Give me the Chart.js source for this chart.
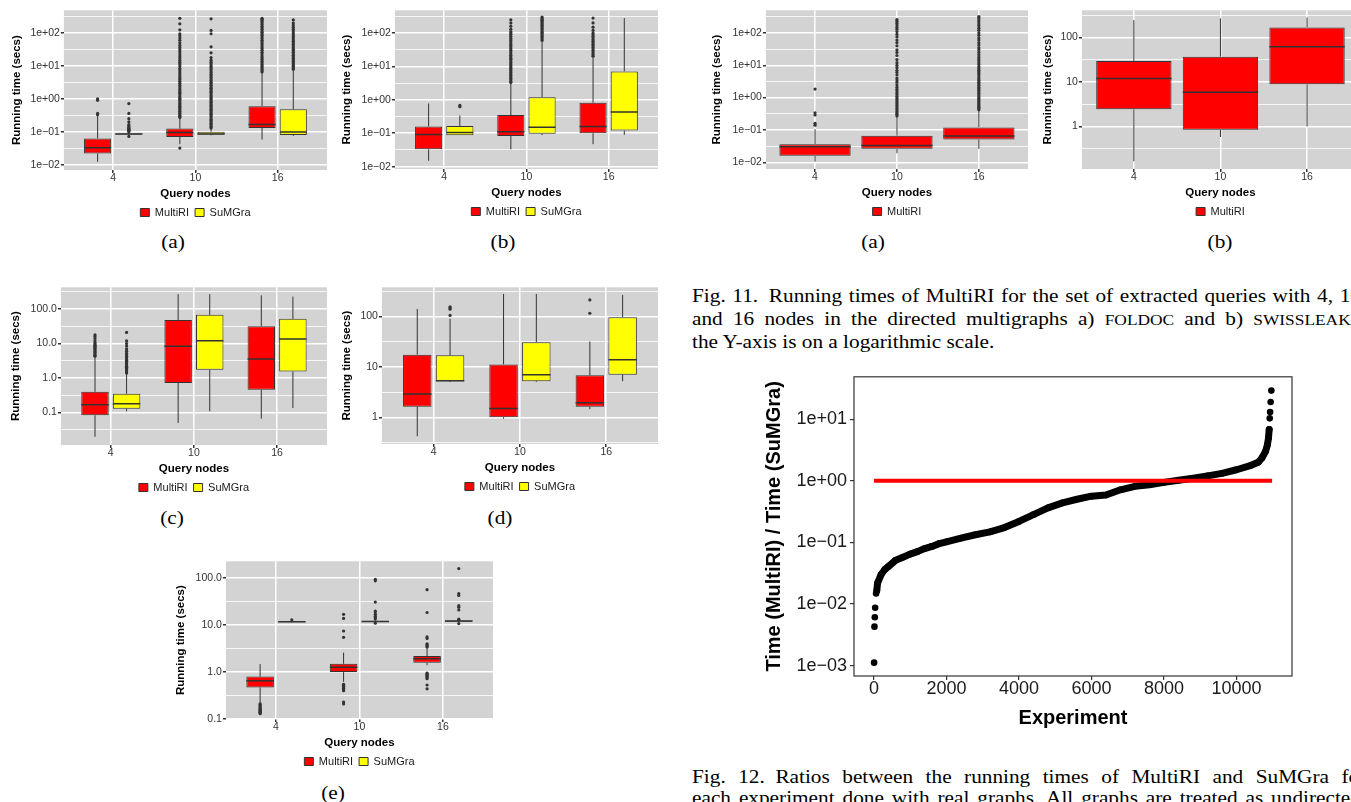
<!DOCTYPE html>
<html>
<head>
<meta charset="utf-8">
<script src="https://cdn.jsdelivr.net/npm/chart.js@4.4.1/dist/chart.umd.min.js"></script>
<style>
  html, body { margin: 0; padding: 0; background: #fff; }
  body { width: 1351px; height: 802px; overflow: hidden; position: relative;
         font-family: "Liberation Serif", "Times New Roman", serif; color: #000; }
  .cv { position: absolute; }
  .sub { position: absolute; width: 60px; font-size: 19px; line-height: 21.3px; text-align: center;
         transform: scaleX(1.12); }
  .cap { position: absolute; left: 692px; font-size: 19px; line-height: 21.3px;
         transform-origin: 0 0; transform: scaleX(1.12); }
  .cap div { width: 602px; white-space: nowrap; text-align: justify; text-align-last: justify; }
  .cap div.last { text-align-last: left; }
  .sc { font-size: 15.5px; }
</style>
</head>
<body>

<div class="sub" style="left:143px;top:231px">(a)</div>
<div class="sub" style="left:473px;top:231px">(b)</div>
<div class="sub" style="left:142px;top:507px">(c)</div>
<div class="sub" style="left:470px;top:507px">(d)</div>
<div class="sub" style="left:303px;top:782px">(e)</div>
<div class="sub" style="left:843px;top:231px">(a)</div>
<div class="sub" style="left:1190px;top:231px">(b)</div>

<div class="cap" style="top:285px;line-height:22.5px">
  <div>Fig. 11.&ensp;Running times of MultiRI for the set of extracted queries with 4, 10,</div>
  <div>and 16 nodes in the directed multigraphs a) <span class="sc">FOLDOC</span> and b) <span class="sc">SWISSLEAKS</span>;</div>
  <div class="last">the Y-axis is on a logarithmic scale.</div>
</div>
<div class="cap" style="top:766px">
  <div>Fig. 12.&ensp;Ratios between the running times of MultiRI and SuMGra for</div>
  <div>each experiment done with real graphs. All graphs are treated as undirected.</div>
</div>

<script>
// ── data ─────────────────────────────────────────────────────────────────────
const QUERY_NODES = ['4', '10', '16'];

// box stats per query size: [lower whisker, Q1, median, Q3, upper whisker] (secs)
const A_MULTI  = [[0.0123, 0.022, 0.033, 0.063, 0.30], [0.042, 0.07, 0.095, 0.125, 0.25], [0.058, 0.13, 0.165, 0.6, 5.9]];
const A_SUMGRA = [[0.075, 0.082, 0.085, 0.088, 0.095], [0.078, 0.082, 0.086, 0.10, 0.12], [0.075, 0.08, 0.098, 0.48, 7.5]];
const A_MULTI_OUT = [
  [0.33, 0.36, 0.9, 1.0],
  [0.032, 0.27, 0.29, 0.32, 0.35, 0.38, 0.42, 0.46, 0.5, 0.55, 0.6, 0.66, 0.72, 0.8, 0.88, 0.96, 1.05, 1.15, 1.3, 1.45, 1.6, 1.8, 2.0, 2.3, 2.6, 3.0, 3.4, 3.9, 4.4, 5.0, 5.8, 6.6, 7.5, 8.5, 10, 11.5, 13, 15, 17.5, 20, 23, 27, 31, 36, 42, 50, 60, 70, 82, 95, 125, 190, 280],
  [6.5, 7.2, 8, 9, 10, 11, 12.5, 14, 16, 18, 20, 23, 26, 30, 34, 38, 43, 48, 54, 60, 68, 76, 85, 95, 105, 115, 130, 145, 160, 180, 200, 220, 240, 260, 280]
];
const A_SUMGRA_OUT = [
  [0.072, 0.1, 0.105, 0.11, 0.115, 0.12, 0.125, 0.13, 0.14, 0.15, 0.165, 0.2, 0.25, 0.36, 0.72],
  [0.13, 0.14, 0.15, 0.165, 0.18, 0.2, 0.22, 0.24, 0.27, 0.3, 0.33, 0.36, 0.4, 0.44, 0.48, 0.53, 0.58, 0.64, 0.7, 0.77, 0.85, 0.94, 1.03, 1.13, 1.25, 1.4, 1.55, 1.7, 1.9, 2.1, 2.3, 2.6, 2.9, 3.2, 3.6, 4, 4.5, 5, 5.6, 6.3, 7, 8, 9, 10, 11.5, 13, 15, 18, 25, 38, 95, 120, 270],
  [8, 8.8, 9.6, 10.5, 11.5, 12.5, 14, 15.5, 17, 19, 21, 23, 26, 29, 32, 36, 40, 45, 50, 56, 62, 70, 78, 88, 100, 115, 130, 150, 175, 200, 250]
];

const B_MULTI  = [[0.015, 0.033, 0.091, 0.16, 0.78], [0.033, 0.083, 0.11, 0.35, 3.2], [0.047, 0.10, 0.16, 0.82, 18]];
const B_SUMGRA = [[0.087, 0.087, 0.105, 0.165, 0.34], [0.088, 0.096, 0.15, 1.2, 55], [0.09, 0.12, 0.43, 7.1, 280]];
const B_MULTI_OUT = [
  [],
  [3.3, 3.6, 4, 4.4, 4.9, 5.4, 6, 6.6, 7.3, 8, 8.8, 9.7, 10.7, 11.8, 13, 14.5, 16, 17.5, 19.5, 21.5, 24, 27, 30, 34, 38, 43, 48, 55, 62, 70, 80, 90, 100, 110, 130, 160, 200, 250],
  [20, 22, 24, 27, 30, 33, 37, 41, 46, 51, 57, 64, 72, 80, 90, 100, 120, 150, 200, 280]
];
const B_SUMGRA_OUT = [
  [0.62, 0.68],
  [60, 66, 72, 80, 88, 96, 105, 115, 125, 140, 155, 170, 185, 200, 220, 240, 260, 280, 300],
  []
];

const C_MULTI  = [[0.02, 0.084, 0.17, 0.40, 4.1], [0.05, 0.72, 8.4, 48, 270], [0.067, 0.46, 3.6, 32, 250]];
const C_SUMGRA = [[0.11, 0.13, 0.18, 0.35, 1.33], [0.11, 1.74, 12, 68, 270], [0.135, 1.55, 13.6, 52, 230]];
const C_MULTI_OUT  = [[4.3, 4.6, 5, 5.4, 5.8, 6.2, 6.7, 7.2, 7.8, 8.4, 9, 9.7, 10.5, 12, 14, 16, 18], [], []];
const C_SUMGRA_OUT = [[1.4, 1.5, 1.6, 1.75, 1.9, 2.05, 2.2, 2.4, 2.6, 2.8, 3.0, 3.3, 3.6, 3.9, 4.3, 4.7, 5.2, 6, 7, 8.5, 10, 12, 21], [], []];

const D_MULTI  = [[0.42, 1.62, 2.9, 17.5, 141], [0.93, 1.0, 1.5, 11.2, 280], [1.45, 1.62, 1.95, 6.8, 32]];
const D_SUMGRA = [[5.0, 5.2, 5.3, 17, 90], [5.0, 5.2, 7.0, 31, 280], [5.2, 7.0, 13.9, 97, 268]];
const D_MULTI_OUT  = [[], [], [116, 213]];
const D_SUMGRA_OUT = [[105, 140, 150, 155], [], []];

const E_MULTI  = [[0.22, 0.47, 0.65, 0.80, 1.48], [0.62, 1.0, 1.26, 1.5, 2.6], [1.4, 1.58, 1.92, 2.2, 3.2]];
const E_SUMGRA = [[11.3, 11.5, 11.8, 12.0, 12.2], [11.4, 11.6, 12.0, 12.3, 12.7], [11.5, 11.8, 12.2, 12.5, 12.9]];
const E_MULTI_OUT = [
  [0.13, 0.135, 0.14, 0.145, 0.15, 0.155, 0.16, 0.17, 0.18, 0.19, 0.2, 0.21],
  [0.21, 0.23, 0.4, 0.42, 0.45, 0.48, 0.5, 0.52, 0.55, 5.5, 7.5, 13.9, 17],
  [0.44, 0.53, 0.72, 0.76, 0.8, 0.84, 0.88, 0.92, 0.95, 3.4, 3.6, 3.8, 4.0, 5.2, 5.6, 18.6, 57]
];
const E_SUMGRA_OUT = [
  [13],
  [11, 13.5, 14.5, 15.5, 17, 19, 20, 31, 88, 95],
  [10.8, 13, 13.4, 21, 24, 26, 43, 47, 160]
];

// Fig. 11: MultiRI only (FOLDOC, SWISSLEAKS)
const F11A_MULTI = [[0.0105, 0.016, 0.030, 0.036, 0.105], [0.019, 0.026, 0.033, 0.066, 0.26], [0.026, 0.051, 0.065, 0.12, 0.41]];
const F11A_MULTI_OUT = [
  [0.14, 0.16, 0.29, 0.34, 1.83],
  [0.27, 0.3, 0.33, 0.37, 0.41, 0.46, 0.51, 0.57, 0.63, 0.7, 0.78, 0.87, 0.97, 1.1, 1.25, 1.4, 1.6, 1.8, 2.1, 2.5, 3, 3.5, 4, 5, 6, 7, 8.5, 10, 12, 15, 20, 25, 30, 40, 50, 60, 75, 90, 110, 130, 150, 175, 200, 230, 260],
  [0.42, 0.46, 0.5, 0.55, 0.6, 0.66, 0.73, 0.8, 0.88, 0.97, 1.07, 1.2, 1.35, 1.5, 1.7, 1.9, 2.1, 2.4, 2.7, 3, 3.4, 3.8, 4.3, 5, 5.6, 6.3, 7, 8, 9, 10.5, 12, 14, 16, 18, 21, 25, 30, 35, 42, 50, 60, 70, 85, 100, 120, 140, 165, 190, 220, 250, 290, 320]
];
const F11B_MULTI = [[0.165, 2.44, 11.9, 29.5, 245], [0.58, 0.84, 5.9, 37, 268], [1.0, 8.9, 62, 167, 280]];
const F11B_MULTI_OUT = [[], [], []];

// y axis ticks
const Y_SCI = [0.01, 0.1, 1, 10, 100];
const Y_SCI_LABELS = ['1e\u221202', '1e\u221201', '1e+00', '1e+01', '1e+02'];
const Y_DEC = [0.1, 1, 10, 100];
const Y_DEC_LABELS = ['0.1', '1.0', '10.0', '100.0'];
const Y_INT = [1, 10, 100];
const Y_INT_LABELS = ['1', '10', '100'];
const Y_MINOR = [0.00316, 0.0316, 0.316, 3.16, 31.6, 316];

// Fig. 12: sorted ratio time(MultiRI)/time(SuMGra) per experiment
const EXPERIMENT = [80, 100, 200, 300, 400, 600, 800, 1000, 1200, 1400, 1600, 1800, 2000, 2400, 2800, 3200, 3600, 4000, 4400, 4800, 5200, 5600, 6000, 6400, 6800, 7200, 7600, 8000, 8400, 8800, 9200, 9600, 10000, 10400, 10600, 10700, 10800, 10850, 10880, 10900];
const RATIO = [0.0166, 0.0219, 0.0302, 0.0363, 0.0407, 0.0513, 0.0575, 0.0646, 0.0708, 0.0794, 0.0861, 0.0955, 0.102, 0.117, 0.133, 0.148, 0.174, 0.219, 0.282, 0.363, 0.437, 0.501, 0.562, 0.589, 0.714, 0.813, 0.861, 0.94, 1.02, 1.10, 1.20, 1.32, 1.51, 1.78, 2.0, 2.34, 3.0, 3.8, 4.9, 6.8];
const TAIL_X = [5, 15, 25, 35, 60, 10915, 10925, 10940, 10960];
const TAIL_Y = [0.00112, 0.0043, 0.0061, 0.0087, 0.0148, 10.3, 13.0, 19.0, 29.0];
const PARITY_X = [0, 10980];
const PARITY_Y = [1, 1];
const EXP_TICKS = [0, 2000, 4000, 6000, 8000, 10000];
const RATIO_TICKS = [0.001, 0.01, 0.1, 1, 10];
const RATIO_LABELS = ['1e\u221203', '1e\u221202', '1e\u221201', '1e+00', '1e+01'];

// ── styling ──────────────────────────────────────────────────────────────────
Chart.defaults.font.family = '"Liberation Sans", Arial, Helvetica, sans-serif';
Chart.defaults.color = '#333';

const INK = '#333333';
const PANEL = '#d3d3d3';
const FILL = { MultiRI: '#ff0000', SuMGra: '#ffff00' };
const DODGE = 0.19, BOX_W2 = 0.33, BOX_W1 = 0.87;
const X_AXIS_H = 31;

const panelBg = {
  id: 'panelBg',
  beforeDraw(c, a, o) {
    if (!o.color) return;
    const { ctx, chartArea: { left, top, width, height } } = c;
    ctx.save(); ctx.fillStyle = o.color; ctx.fillRect(left, top, width, height); ctx.restore();
  }
};
const frame = {
  id: 'frame',
  afterDatasetsDraw(c, a, o) {
    if (!o.color) return;
    const { ctx, chartArea: { left, top, width, height } } = c;
    ctx.save(); ctx.strokeStyle = o.color; ctx.lineWidth = o.width;
    ctx.strokeRect(left, top, width, height); ctx.restore();
  }
};

function boxConfig(p, yW) {
  const two = p.names.length === 2;
  const datasets = [];
  p.names.forEach((name, k) => {
    const shift = two ? (k === 0 ? -DODGE : DODGE) : 0;
    const xs = QUERY_NODES.map((_, i) => i + 1 + shift);
    const half = (two ? BOX_W2 : BOX_W1) / 2;
    const stats = p.stats[k], outl = p.out[k];
    const med = [], whisk = [], pts = [];
    stats.forEach((s, i) => {
      med.push({ x: xs[i] - half, y: s[2] }, { x: xs[i] + half, y: s[2] }, { x: xs[i], y: null });
      whisk.push({ x: xs[i], y: s[0] }, { x: xs[i], y: s[1] }, { x: xs[i], y: null },
                 { x: xs[i], y: s[3] }, { x: xs[i], y: s[4] }, { x: xs[i], y: null });
      outl[i].forEach(v => pts.push({ x: xs[i], y: v }));
    });
    datasets.push(
      { type: 'bar', label: name, isBox: true, order: 1,
        data: stats.map((s, i) => ({ x: xs[i], y: [s[1], s[3]] })),
        backgroundColor: FILL[name], borderColor: INK, borderWidth: 1, borderSkipped: false,
        grouped: false, categoryPercentage: 1, barPercentage: two ? BOX_W2 / (2 * DODGE) : BOX_W1 },
      { type: 'line', order: 0, data: med, borderColor: INK, borderWidth: 1.5, pointRadius: 0 },
      { type: 'line', order: 2, data: whisk, borderColor: INK, borderWidth: 1, pointRadius: 0 },
      { type: 'scatter', order: 0, data: pts, pointRadius: 1.6, pointBackgroundColor: INK, pointBorderWidth: 0 }
    );
  });
  const yTicks = p.major.concat(Y_MINOR).sort((a, b) => a - b);
  return {
    type: 'bar',
    data: { datasets },
    plugins: [panelBg],
    options: {
      responsive: false, animation: false, devicePixelRatio: 1, events: [],
      layout: { padding: { top: 6, right: 6, left: 0, bottom: 0 } },
      plugins: {
        panelBg: { color: PANEL },
        tooltip: { enabled: false },
        legend: {
          position: 'bottom', fullSize: false,
          labels: { boxWidth: 9, boxHeight: 8, padding: 6, color: '#1a1a1a', font: { size: 11 },
                    filter: (item, data) => data.datasets[item.datasetIndex].isBox }
        }
      },
      scales: {
        x: {
          type: 'linear', min: 0.4, max: 3.6, offset: false,
          afterBuildTicks: ax => { ax.ticks = QUERY_NODES.map((_, i) => ({ value: i + 1 })); },
          afterFit: ax => { ax.height = X_AXIS_H; },
          ticks: { autoSkip: false, maxRotation: 0, padding: 0, color: '#333',
                   font: { size: 10.5, lineHeight: 1 }, callback: (v, i) => QUERY_NODES[i] },
          grid: { color: '#ffffff', lineWidth: 1.5, tickLength: 3, tickColor: INK, offset: false },
          border: { display: false },
          title: { display: true, text: 'Query nodes', color: '#000', padding: 0,
                   font: { size: 11.5, weight: 'bold' } }
        },
        y: {
          type: 'logarithmic', min: p.range[0], max: p.range[1],
          afterBuildTicks: ax => {
            ax.ticks = yTicks.filter(v => v >= p.range[0] && v <= p.range[1]).map(v => ({ value: v }));
          },
          afterFit: ax => { ax.width = yW; },
          ticks: { autoSkip: false, padding: 1, color: '#333', font: { size: 10.5 },
                   callback: v => { const i = p.major.indexOf(v); return i < 0 ? '' : p.labels[i]; } },
          grid: { color: '#ffffff', tickLength: 3,
                  lineWidth: c => p.major.includes(c.tick.value) ? 1.5 : 0.8,
                  tickColor: c => p.major.includes(c.tick.value) ? INK : 'rgba(0,0,0,0)' },
          border: { display: false },
          title: { display: true, text: 'Running time (secs)', color: '#000', padding: 0,
                   font: { size: 11.5, weight: 'bold' } }
        }
      }
    }
  };
}

function ratioConfig(yW) {
  return {
    type: 'scatter',
    data: {
      datasets: [
        { type: 'line', order: 0, data: PARITY_X.map((x, i) => ({ x, y: PARITY_Y[i] })),
          borderColor: '#ff0000', borderWidth: 4, pointRadius: 0 },
        { type: 'line', order: 1, data: EXPERIMENT.map((x, i) => ({ x, y: RATIO[i] })),
          borderColor: '#000', borderWidth: 7, borderCapStyle: 'round', borderJoinStyle: 'round',
          pointRadius: 3.3, pointBackgroundColor: '#000', pointBorderWidth: 0 },
        { type: 'scatter', order: 1, data: TAIL_X.map((x, i) => ({ x, y: TAIL_Y[i] })),
          pointRadius: 3.3, pointBackgroundColor: '#000', pointBorderWidth: 0 }
      ]
    },
    plugins: [frame],
    options: {
      responsive: false, animation: false, devicePixelRatio: 1, events: [],
      layout: { padding: { top: 7, right: 8, left: 0, bottom: 0 } },
      plugins: { legend: { display: false }, tooltip: { enabled: false }, frame: { color: INK, width: 1.2 } },
      scales: {
        x: {
          type: 'linear', min: -549, max: 11529,
          afterBuildTicks: ax => { ax.ticks = EXP_TICKS.map(v => ({ value: v })); },
          afterFit: ax => { ax.height = 54; },
          ticks: { autoSkip: false, maxRotation: 0, padding: 0, color: '#1a1a1a',
                   font: { size: 18, lineHeight: 1 }, callback: v => String(v) },
          grid: { drawOnChartArea: false, tickLength: 4, tickColor: INK, lineWidth: 1.2 },
          border: { display: false },
          title: { display: true, text: 'Experiment', color: '#000', padding: 0,
                   font: { size: 20, weight: 'bold' } }
        },
        y: {
          type: 'logarithmic', min: 0.00068, max: 48.6,
          afterBuildTicks: ax => { ax.ticks = RATIO_TICKS.map(v => ({ value: v })); },
          afterFit: ax => { ax.width = yW; },
          ticks: { autoSkip: false, padding: 3, color: '#1a1a1a', font: { size: 18 },
                   callback: v => RATIO_LABELS[RATIO_TICKS.indexOf(v)] },
          grid: { drawOnChartArea: false, tickLength: 4, tickColor: INK, lineWidth: 1.2 },
          border: { display: false },
          title: { display: true, text: 'Time (MultiRI) / Time (SuMGra)', color: '#000', padding: 0,
                   font: { size: 20, weight: 'bold' } }
        }
      }
    }
  };
}

// place a chart so that its plot area lands on the box ca = {l, t, r, b}
function mount(build, ca, titleX, titleLH) {
  const holder = document.createElement('div');
  holder.className = 'cv';
  document.body.appendChild(holder);
  const x0 = titleX - titleLH / 2;
  const yW = ca.l - x0;
  let w = ca.r + 8 - x0, h = (ca.b - ca.t) + 100, chart;
  for (let k = 0; k < 4; k++) {
    holder.innerHTML = '';
    const cv = document.createElement('canvas');
    cv.width = Math.round(w); cv.height = Math.round(h);
    holder.appendChild(cv);
    chart = new Chart(cv, build(yW));
    const a = chart.chartArea;
    holder.style.left = (ca.l - a.left) + 'px';
    holder.style.top = (ca.t - a.top) + 'px';
    const dh = (ca.b - ca.t) - (a.bottom - a.top);
    const dw = (ca.r - ca.l) - (a.right - a.left);
    if (Math.abs(dh) < 0.5 && Math.abs(dw) < 0.5) break;
    chart.destroy();
    h += dh; w += dw;
  }
  return chart;
}

const both = ['MultiRI', 'SuMGra'];
const TITLE_LH = 11.5 * 1.2;
mount(yW => boxConfig({ names: both, stats: [A_MULTI, A_SUMGRA], out: [A_MULTI_OUT, A_SUMGRA_OUT],
  range: [0.0069, 490], major: Y_SCI, labels: Y_SCI_LABELS }, yW), { l: 64, t: 10, r: 327, b: 170 }, 17, TITLE_LH);
mount(yW => boxConfig({ names: both, stats: [B_MULTI, B_SUMGRA], out: [B_MULTI_OUT, B_SUMGRA_OUT],
  range: [0.0085, 479], major: Y_SCI, labels: Y_SCI_LABELS }, yW), { l: 395, t: 10, r: 658, b: 169 }, 347, TITLE_LH);
mount(yW => boxConfig({ names: both, stats: [C_MULTI, C_SUMGRA], out: [C_MULTI_OUT, C_SUMGRA_OUT],
  range: [0.0115, 427], major: Y_DEC, labels: Y_DEC_LABELS }, yW), { l: 61, t: 287, r: 327, b: 445 }, 16, TITLE_LH);
mount(yW => boxConfig({ names: both, stats: [D_MULTI, D_SUMGRA], out: [D_MULTI_OUT, D_SUMGRA_OUT],
  range: [0.295, 380], major: Y_INT, labels: Y_INT_LABELS }, yW), { l: 382, t: 287, r: 658, b: 444 }, 347, TITLE_LH);
mount(yW => boxConfig({ names: both, stats: [E_MULTI, E_SUMGRA], out: [E_MULTI_OUT, E_SUMGRA_OUT],
  range: [0.1, 229], major: Y_DEC, labels: Y_DEC_LABELS }, yW), { l: 226, t: 561, r: 493, b: 719 }, 181, TITLE_LH);
mount(yW => boxConfig({ names: ['MultiRI'], stats: [F11A_MULTI], out: [F11A_MULTI_OUT],
  range: [0.0062, 500], major: Y_SCI, labels: Y_SCI_LABELS }, yW), { l: 766, t: 10, r: 1028, b: 169 }, 717, TITLE_LH);
mount(yW => boxConfig({ names: ['MultiRI'], stats: [F11B_MULTI], out: [F11B_MULTI_OUT],
  range: [0.111, 407], major: Y_INT, labels: Y_INT_LABELS }, yW), { l: 1082, t: 10, r: 1359, b: 169 }, 1048, TITLE_LH);
mount(ratioConfig, { l: 854, t: 377, r: 1292, b: 676 }, 774, 24);
</script>
</body>
</html>
